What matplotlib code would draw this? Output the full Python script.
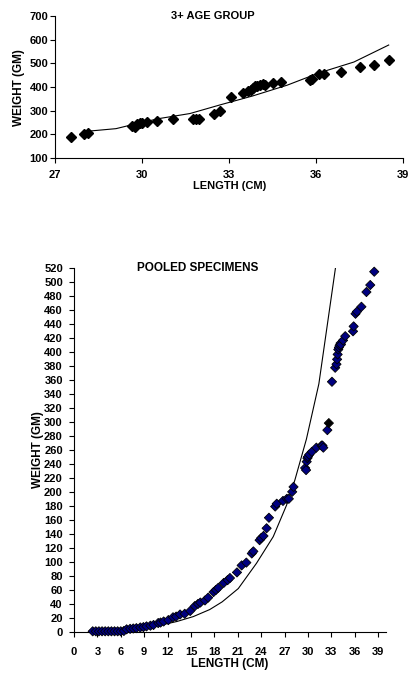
import numpy as np
import matplotlib
matplotlib.use("Agg")
import matplotlib.pyplot as plt

plt.rcParams['font.family'] = ['Liberation Sans', 'DejaVu Sans']
plt.rcParams['font.weight'] = 'bold'

# ===============================
# 3+ age group (top panel)
# ===============================
age3_len = [27.55, 27.98, 28.15, 29.64, 29.76, 29.84, 29.93, 30.0, 30.16, 30.5,
            31.08, 31.74, 31.86, 31.97, 32.49, 32.68, 33.08, 33.49, 33.66, 33.74,
            33.81, 33.89, 33.97, 34.06, 34.18, 34.23, 34.5, 34.78, 35.78, 35.86,
            36.1, 36.28, 36.86, 37.5, 37.99, 38.5]
age3_wt = [190, 200, 207, 234, 231, 243, 248, 250, 253, 257,
           263, 266, 266, 263, 288, 298, 357, 377, 382, 389,
           396, 403, 406, 409, 412, 410, 416, 422, 429, 436,
           454, 457, 464, 485, 495, 514]

# fitted (calculated) weight line
age3_fit_len = [28.2, 29.1, 29.9, 30.6, 31.65, 32.7, 33.8, 35.0, 36.1, 37.3, 38.5]
age3_fit_wt = [214, 224, 248, 267, 288, 325, 362, 408, 460, 506, 578]

# ===============================
# pooled specimens (bottom panel): juveniles + 3+ group
# ===============================
juv_len = [2.4, 2.8, 3.2, 3.6, 4.0, 4.4, 4.8, 5.2, 5.6, 6.0, 6.4, 6.75, 7.2, 7.6,
           8.0, 8.5, 8.9, 9.3, 9.8, 10.2, 10.8, 11.1, 11.5, 12.1, 12.7, 13.1, 13.6,
           14.2, 14.9, 15.5, 15.9, 16.2, 16.8, 17.2, 17.9, 18.2, 18.5, 19.2, 19.7,
           20.0, 20.9, 21.5, 22.1, 22.8, 23.0, 23.8, 24.0, 24.3, 24.7, 25.0, 25.8,
           26.0, 26.8, 27.3]
juv_wt = [1, 1, 1, 1, 1, 1, 1, 1, 1, 1, 1.5, 3.8, 4.5, 5,
          5.5, 6.5, 7, 8, 9, 10, 12.8, 13.5, 15, 17, 21, 22, 25,
          26, 30, 37, 40, 42, 45, 49, 57, 60, 63, 70, 74,
          77, 85, 95, 99, 112, 115, 131, 134, 137, 148, 163, 179,
          183, 187, 190]

pooled_len = juv_len + age3_len
pooled_wt = juv_wt + age3_wt
# one specimen shows up black in the pooled plot
black_idx = len(juv_len) + 15

pooled_fit_len = [2.5, 5.0, 7.5, 10.0, 12.0, 13.2, 15.3, 17.4, 19.0, 21.07, 23.4,
                  25.55, 27.26, 28.33, 29.8, 31.4, 33.55]
pooled_fit_wt = [0.3, 1.5, 4, 8, 12, 15, 22, 32, 43, 62, 98,
                 136, 181, 217, 275, 354, 521]

# ===============================
# figure
# ===============================
fig = plt.figure(figsize=(4.11, 6.75), dpi=100)

def style_axes(ax, fs, xpad, ypad):
    ax.spines['top'].set_visible(False)
    ax.spines['right'].set_visible(False)
    ax.spines['left'].set_linewidth(0.8)
    ax.spines['bottom'].set_linewidth(0.8)
    ax.tick_params(direction='out', length=3.5, width=0.8, labelsize=fs)
    ax.tick_params(axis='x', pad=xpad)
    ax.tick_params(axis='y', pad=ypad)
    for lab in ax.get_xticklabels() + ax.get_yticklabels():
        lab.set_fontweight('bold')

# top panel
ax1 = fig.add_axes([0.134, 0.766, 0.847, 0.210])
ax1.plot(age3_fit_len, age3_fit_wt, color='black', lw=0.8)
ax1.plot(age3_len, age3_wt, 'D', color='black', ms=5.2, clip_on=False)
ax1.set_xlim(27, 39)
ax1.set_ylim(100, 700)
ax1.set_xticks(np.arange(27, 40, 3))
ax1.set_yticks(np.arange(100, 701, 100))
style_axes(ax1, 8, 5.5, 1.5)
ax1.text(0.454, 1.0, '3+ AGE GROUP', transform=ax1.transAxes, ha='center',
         va='center', fontsize=8, fontweight='bold')
ax1.set_xlabel('LENGTH (CM)', fontsize=8, fontweight='bold', labelpad=0.5)
ax1.set_ylabel('WEIGHT (GM)', fontsize=8.5, fontweight='bold', labelpad=3)

# bottom panel
ax2 = fig.add_axes([0.180, 0.0637, 0.759, 0.540])
ax2.plot(pooled_fit_len, pooled_fit_wt, color='black', lw=0.8)
face = ['#000080'] * len(pooled_len)
face[black_idx] = 'black'
ax2.scatter(pooled_len, pooled_wt, marker='D', c=face, edgecolors='black',
            linewidths=0.6, s=22, clip_on=False, zorder=3)
ax2.set_xlim(0, 40)
ax2.set_ylim(0, 520)
ax2.set_xticks(np.arange(0, 40, 3))
ax2.set_yticks(np.arange(0, 521, 20))
style_axes(ax2, 8, 7, 4.5)
ax2.text(0.397, 1.0, 'POOLED SPECIMENS', transform=ax2.transAxes, ha='center',
         va='center', fontsize=8.5, fontweight='bold')
ax2.set_xlabel('LENGTH (CM)', fontsize=8.5, fontweight='bold', labelpad=1)
ax2.set_ylabel('WEIGHT (GM)', fontsize=8.5, fontweight='bold', labelpad=0)

fig.savefig('out.png', dpi=100)
